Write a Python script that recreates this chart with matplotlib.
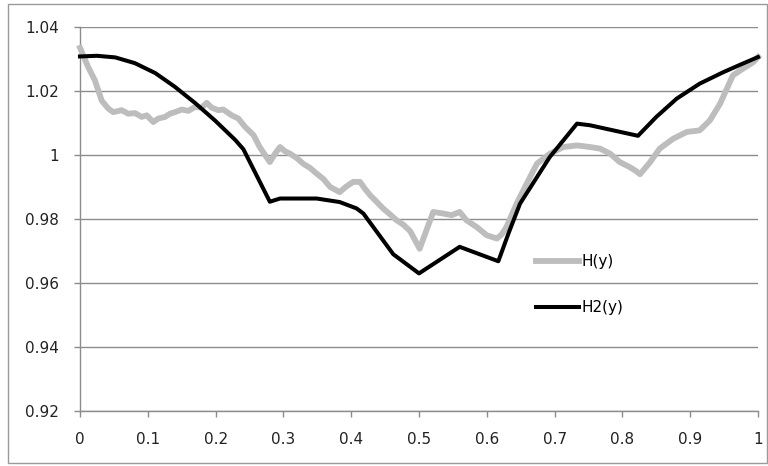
import matplotlib
matplotlib.use("Agg")
import matplotlib.pyplot as plt
from matplotlib.patches import Rectangle

# H(y): measured profile
h_x = [0.000, 0.006, 0.012, 0.022, 0.032, 0.0418, 0.0491, 0.0615, 0.0713, 0.0811,
       0.0910, 0.0984, 0.1081, 0.1155, 0.1254, 0.1327, 0.1401, 0.1500, 0.1598, 0.1696,
       0.1795, 0.1869, 0.1942, 0.2040, 0.2114, 0.2237, 0.2335, 0.2434, 0.256, 0.265,
       0.280, 0.288, 0.295, 0.302, 0.310, 0.320, 0.329, 0.339, 0.349, 0.359,
       0.369, 0.383, 0.393, 0.403, 0.413, 0.420, 0.428, 0.437, 0.447, 0.457,
       0.467, 0.477, 0.487, 0.501, 0.511, 0.521, 0.536, 0.548, 0.560, 0.570,
       0.585, 0.600, 0.615, 0.622, 0.629, 0.644, 0.659, 0.674, 0.693, 0.713,
       0.733, 0.752, 0.767, 0.782, 0.796, 0.811, 0.820, 0.826, 0.841, 0.855,
       0.875, 0.895, 0.914, 0.929, 0.944, 0.954, 0.963, 0.978, 0.993, 1.000]
h_y = [1.0335, 1.0305, 1.0275, 1.0233, 1.0170, 1.0145, 1.0134, 1.0140, 1.0129, 1.0131,
       1.0119, 1.0124, 1.0103, 1.0114, 1.0119, 1.0129, 1.0134, 1.0142, 1.0138, 1.0150,
       1.0148, 1.0163, 1.0148, 1.0140, 1.0142, 1.0124, 1.0114, 1.0088, 1.0062, 1.0025,
       0.9978, 1.0005, 1.0025, 1.0012, 1.0004, 0.9990, 0.9973, 0.9960, 0.9942, 0.9925,
       0.9900, 0.9884, 0.9902, 0.9916, 0.9916, 0.9895, 0.9874, 0.9855, 0.9833, 0.9815,
       0.9796, 0.9782, 0.9762, 0.9707, 0.9765, 0.9822, 0.9817, 0.9812, 0.9822, 0.9796,
       0.9775, 0.9749, 0.9739, 0.9752, 0.9775, 0.9848, 0.9911, 0.9973, 1.0004, 1.0025,
       1.0030, 1.0025, 1.0020, 1.0004, 0.9978, 0.9962, 0.9950, 0.9940, 0.9978, 1.0020,
       1.0051, 1.0072, 1.0077, 1.0108, 1.0160, 1.0207, 1.0249, 1.0270, 1.0290, 1.0306]

# H2(y): piecewise model
h2_x = [0.000, 0.025, 0.052, 0.081, 0.111, 0.140, 0.170, 0.199, 0.229, 0.241,
        0.280, 0.295, 0.349, 0.383, 0.408, 0.418, 0.462, 0.500, 0.560, 0.617,
        0.632, 0.649, 0.674, 0.693, 0.713, 0.733, 0.752, 0.823, 0.850, 0.880,
        0.914, 0.949, 0.978, 1.000]
h2_y = [1.0308, 1.0310, 1.0305, 1.0287, 1.0256, 1.0213, 1.0162, 1.0108, 1.0047, 1.0018,
        0.9854, 0.9864, 0.9864, 0.9853, 0.9833, 0.9817, 0.9690, 0.9630, 0.9713, 0.9668,
        0.9755, 0.9848, 0.9931, 0.9994, 1.0046, 1.0098, 1.0093, 1.0060, 1.0119, 1.0176,
        1.0223, 1.0259, 1.0286, 1.0306]

x_ticks = [0, 0.1, 0.2, 0.3, 0.4, 0.5, 0.6, 0.7, 0.8, 0.9, 1]
x_labels = ["0", "0.1", "0.2", "0.3", "0.4", "0.5", "0.6", "0.7", "0.8", "0.9", "1"]
y_ticks = [0.92, 0.94, 0.96, 0.98, 1.00, 1.02, 1.04]
y_labels = ["0.92", "0.94", "0.96", "0.98", "1", "1.02", "1.04"]

plt.rcParams["font.family"] = ["DejaVu Sans"]
fig = plt.figure(figsize=(7.68, 4.66), dpi=100)
fig.patch.set_facecolor("white")

# chart-area border
fig.patches.append(Rectangle((8 / 768, 3 / 466), 759 / 768, 459 / 466,
                             transform=fig.transFigure, fill=False,
                             edgecolor="#9a9a9a", linewidth=1.0))

ax = fig.add_axes([80 / 768, 1 - 411 / 466, 678 / 768, 384 / 466])
grid_c = "#8c8c8c"
for yv in y_ticks:
    ax.axhline(yv, color=grid_c, linewidth=1.0, zorder=1)

ax.plot(h_x, h_y, color="#bdbdbd", linewidth=4.2, solid_joinstyle="round",
        label="H(y)", zorder=3, clip_on=False)
ax.plot(h2_x, h2_y, color="black", linewidth=2.9, solid_joinstyle="round",
        label="H2(y)", zorder=4, clip_on=False)

ax.set_xlim(0, 1)
ax.set_ylim(0.92, 1.04)
ax.set_xticks(x_ticks)
ax.set_xticklabels(x_labels)
ax.set_yticks(y_ticks)
ax.set_yticklabels(y_labels)

for s in ["top", "right"]:
    ax.spines[s].set_visible(False)
for s in ["left", "bottom"]:
    ax.spines[s].set_color(grid_c)
    ax.spines[s].set_linewidth(1.0)

ax.tick_params(axis="both", direction="out", length=4, width=1.0,
               color=grid_c, labelsize=11, labelcolor="#222222")
ax.tick_params(axis="y", pad=11)
ax.tick_params(axis="x", pad=11)

ax.legend(loc="center left", bbox_to_anchor=(0.6726, 0.329), frameon=False,
          fontsize=11, handlelength=2.8, handletextpad=0.15, labelspacing=2.05,
          borderpad=0, borderaxespad=0)

fig.savefig("out.png", dpi=100, facecolor="white")
